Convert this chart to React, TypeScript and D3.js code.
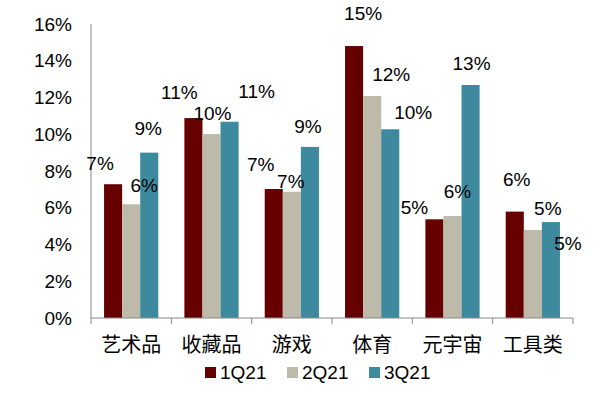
import React from 'react'
import * as d3 from 'd3'

const categories = ['艺术品', '收藏品', '游戏', '体育', '元宇宙', '工具类']
const seriesNames = ['1Q21', '2Q21', '3Q21']
const q1 = [7.28, 10.88, 7.02, 14.8, 5.37, 5.79]
const q2 = [6.19, 10.01, 6.87, 12.08, 5.55, 4.79]
const q3 = [9.0, 10.68, 9.31, 10.27, 12.68, 5.22]
const labelsQ1 = ['7%', '11%', '7%', '15%', '5%', '6%']
const labelsQ2 = ['6%', '10%', '7%', '12%', '6%', '5%']
const labelsQ3 = ['9%', '11%', '9%', '10%', '13%', '5%']
const yTicks = [0, 2, 4, 6, 8, 10, 12, 14, 16]

const colors = ['#660000', '#bdbaa9', '#3d8a9e']

// label nudges (dx from bar centre, dy from bar top), like the excel original
const labelShift = [
  [[-13, -21], [13, -19], [-1, -24]],
  [[-14, -26], [1, -21], [27, -30]],
  [[-13, -25], [-1, -10], [-2, -21]],
  [[9, -33], [19, -22], [23, -17]],
  [[-20, -12], [5, -25], [1, -22]],
  [[2, -32], [15, -22], [17, 21]]
]

const W = 600
const H = 395
const left = 91
const right = 573
const top = 24
const bottom = 318
const font = '"Liberation Sans", Arial, sans-serif'
const cjk = '"Noto Sans CJK SC", sans-serif'

const App = () => {
  const values = [q1, q2, q3]
  const labels = [labelsQ1, labelsQ2, labelsQ3]

  const x0 = d3
    .scaleBand()
    .domain(categories)
    .range([left, right])
    .paddingInner(0.325)
    .paddingOuter(0.1625)
  const x1 = d3.scaleBand().domain(seriesNames).range([0, x0.bandwidth()])
  const y = d3.scaleLinear().domain([0, 16]).range([bottom, top])
  const step = x0.step()

  return (
    <svg
      width={W}
      height={H}
      style={{ position: 'absolute', left: 0, top: 0, background: '#fff' }}
    >
      {/* y axis */}
      <line x1={left} x2={left} y1={top} y2={bottom} stroke="#888" />
      {yTicks.map((t) => (
        <text
          key={t}
          x={left - 19}
          y={y(t)}
          dy="0.35em"
          textAnchor="end"
          fontFamily={font}
          fontSize={19}
          fill="#000"
        >
          {t + '%'}
        </text>
      ))}

      {/* bars */}
      {categories.map((c, i) => (
        <g key={c} transform={`translate(${x0(c)},0)`}>
          {seriesNames.map((s, j) => (
            <rect
              key={s}
              x={x1(s)}
              y={y(values[j][i])}
              width={x1.bandwidth()}
              height={bottom - y(values[j][i])}
              fill={colors[j]}
            />
          ))}
        </g>
      ))}

      {/* x axis */}
      <line x1={left} x2={right} y1={bottom} y2={bottom} stroke="#888" />
      {categories.map((c, i) => (
        <line
          key={'t' + i}
          x1={left + step * i}
          x2={left + step * i}
          y1={bottom}
          y2={bottom + 6}
          stroke="#888"
        />
      ))}
      <line x1={right} x2={right} y1={bottom} y2={bottom + 6} stroke="#888" />
      {categories.map((c) => (
        <text
          key={'c' + c}
          x={(x0(c) as number) + x0.bandwidth() / 2}
          y={345}
          dy="0.35em"
          textAnchor="middle"
          fontFamily={cjk}
          fontSize={20}
          fill="#000"
        >
          {c}
        </text>
      ))}

      {/* data labels */}
      {categories.map((c, i) =>
        seriesNames.map((s, j) => (
          <text
            key={'l' + i + j}
            x={(x0(c) as number) + (x1(s) as number) + x1.bandwidth() / 2 + labelShift[i][j][0]}
            y={y(values[j][i]) + labelShift[i][j][1]}
            dy="0.35em"
            textAnchor="middle"
            fontFamily={font}
            fontSize={19}
            fill="#000"
          >
            {labels[j][i]}
          </text>
        ))
      )}

      {/* legend */}
      {seriesNames.map((s, j) => (
        <g key={'lg' + s} transform={`translate(${205 + j * 82},372)`}>
          <rect x={0} y={-5} width={11} height={11} fill={colors[j]} />
          <text x={15} y={0} dy="0.35em" fontFamily={font} fontSize={19} fill="#000">
            {s}
          </text>
        </g>
      ))}
    </svg>
  )
}

export default App
